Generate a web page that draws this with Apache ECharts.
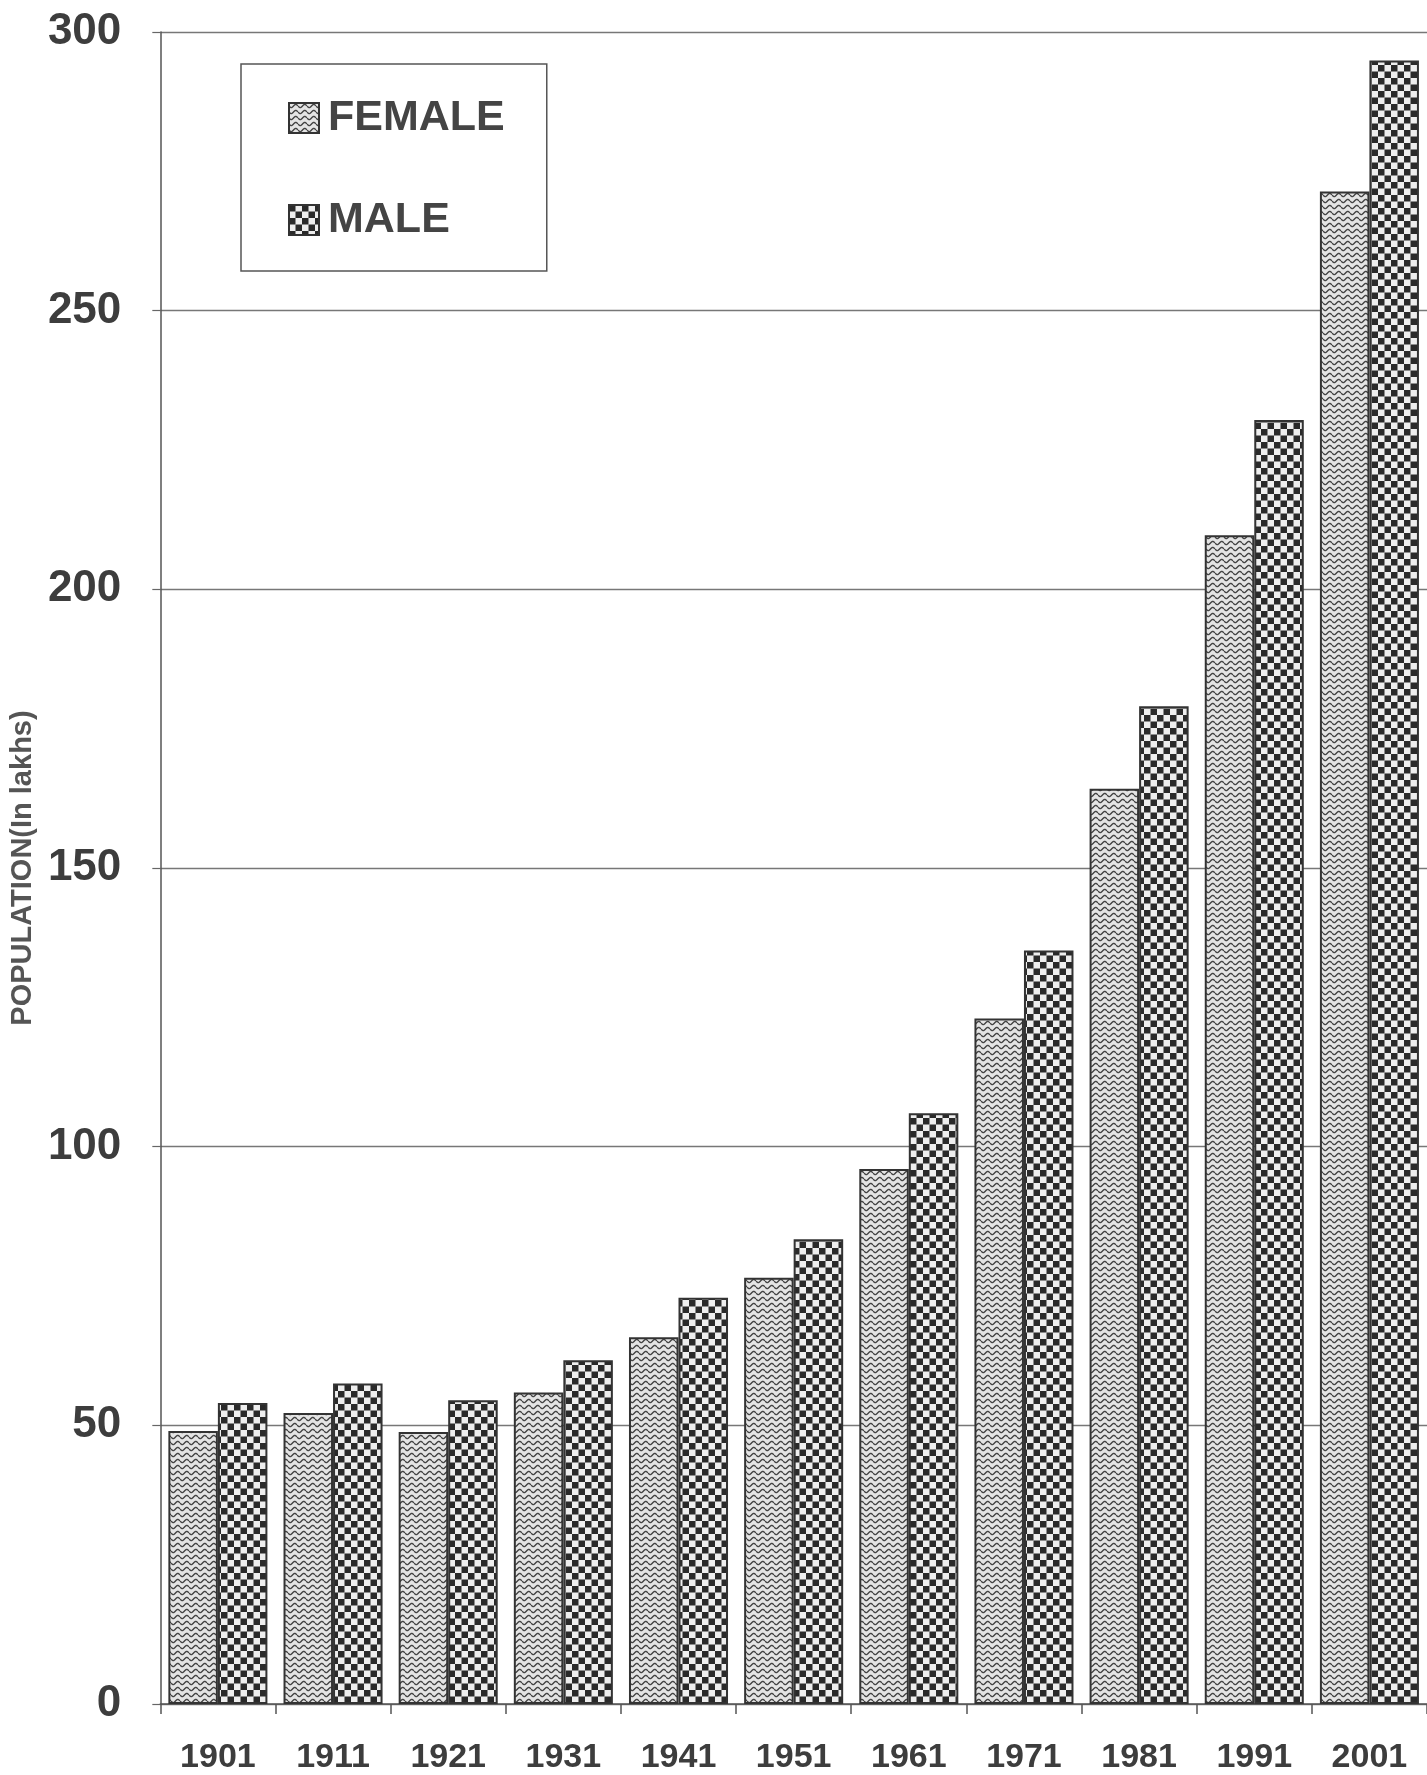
<!DOCTYPE html>
<html>
<head>
<meta charset="utf-8">
<script src="https://cdn.jsdelivr.net/npm/echarts@6/dist/echarts.min.js"></script>
<style>
  html, body { margin: 0; padding: 0; background: #fff; }
  #chart { width: 1427px; height: 1775px; }
</style>
</head>
<body>
<div id="chart"></div>
<script>
// ---- data ----
const years = ['1901', '1911', '1921', '1931', '1941', '1951', '1961', '1971', '1981', '1991', '2001'];
const female = [49, 52.2, 48.8, 55.9, 65.8, 76.5, 96, 123, 164.2, 209.7, 271.4];
const male = [54, 57.5, 54.5, 61.7, 72.9, 83.4, 106, 135.2, 179, 230.4, 294.9];
const seriesNames = ['FEMALE', 'MALE'];
const yAxisTitle = 'POPULATION(In lakhs)';
const yMin = 0, yMax = 300, yStep = 50;

// ---- patterns (style only) ----
function wavePattern() {
  const c = document.createElement('canvas');
  c.width = 9; c.height = 6;
  const g = c.getContext('2d');
  g.fillStyle = '#e4e4e4';
  g.fillRect(0, 0, 9, 6);
  g.strokeStyle = '#444';
  g.lineWidth = 1.4;
  g.beginPath();
  for (let x = 0; x <= 9; x += 0.5) {
    const y = 3 + 1.7 * Math.sin((x / 9) * 2 * Math.PI);
    if (x === 0) g.moveTo(x, y); else g.lineTo(x, y);
  }
  g.stroke();
  return c;
}
function checkerPattern() {
  const s = 6.5;
  const c = document.createElement('canvas');
  c.width = 13; c.height = 13;
  const g = c.getContext('2d');
  g.fillStyle = '#eeeeee';
  g.fillRect(0, 0, 13, 13);
  g.fillStyle = '#2a2a2a';
  g.fillRect(0, 0, s, s);
  g.fillRect(s, s, s, s);
  return c;
}

const sans = "'Liberation Sans', Arial, sans-serif";

const chart = echarts.init(document.getElementById('chart'), null, { renderer: 'canvas' });
chart.setOption({
  animation: false,
  backgroundColor: '#fff',
  grid: { left: 146, right: -10, top: 32, bottom: 69, containLabel: false },
  legend: {
    orient: 'vertical',
    left: 241, top: 64,
    padding: [29, 42, 26, 47],
    itemGap: 52,
    itemWidth: 30, itemHeight: 30,
    icon: 'rect',
    borderColor: '#555', borderWidth: 1.5,
    textStyle: { fontSize: 43, fontWeight: 'bold', fontFamily: sans, color: '#444', lineHeight: 50, padding: [0, 0, 0, 4] },
    data: seriesNames
  },
  xAxis: {
    type: 'category',
    data: years,
    axisLine: { show: true, lineStyle: { color: '#555', width: 1.5 } },
    axisTick: { show: true, length: 10, lineStyle: { color: '#555', width: 1.5 } },
    axisLabel: { fontSize: 34, fontWeight: 'bold', fontFamily: sans, color: '#3d3d3d', margin: 37 }
  },
  yAxis: {
    type: 'value',
    min: yMin, max: yMax, interval: yStep,
    name: yAxisTitle,
    nameLocation: 'middle',
    nameRotate: 90,
    nameGap: 122,
    nameTextStyle: { fontSize: 29, fontWeight: 'bold', fontFamily: sans, color: '#555' },
    axisLine: { show: true, lineStyle: { color: '#555', width: 1.5 } },
    axisTick: { show: true, length: 8, lineStyle: { color: '#666', width: 1.2 } },
    axisLabel: { fontSize: 44, fontWeight: 'bold', fontFamily: sans, color: '#3d3d3d', margin: 39 },
    splitLine: { show: true, lineStyle: { color: '#777', width: 1.3 } }
  },
  series: [
    {
      name: seriesNames[0], type: 'bar', data: female,
      barGap: '0%', barCategoryGap: '14%',
      itemStyle: { color: { image: wavePattern(), repeat: 'repeat' }, borderColor: '#333', borderWidth: 2 }
    },
    {
      name: seriesNames[1], type: 'bar', data: male,
      barGap: '0%', barCategoryGap: '14%',
      itemStyle: { color: { image: checkerPattern(), repeat: 'repeat' }, borderColor: '#333', borderWidth: 2 }
    }
  ]
});
</script>
</body>
</html>
